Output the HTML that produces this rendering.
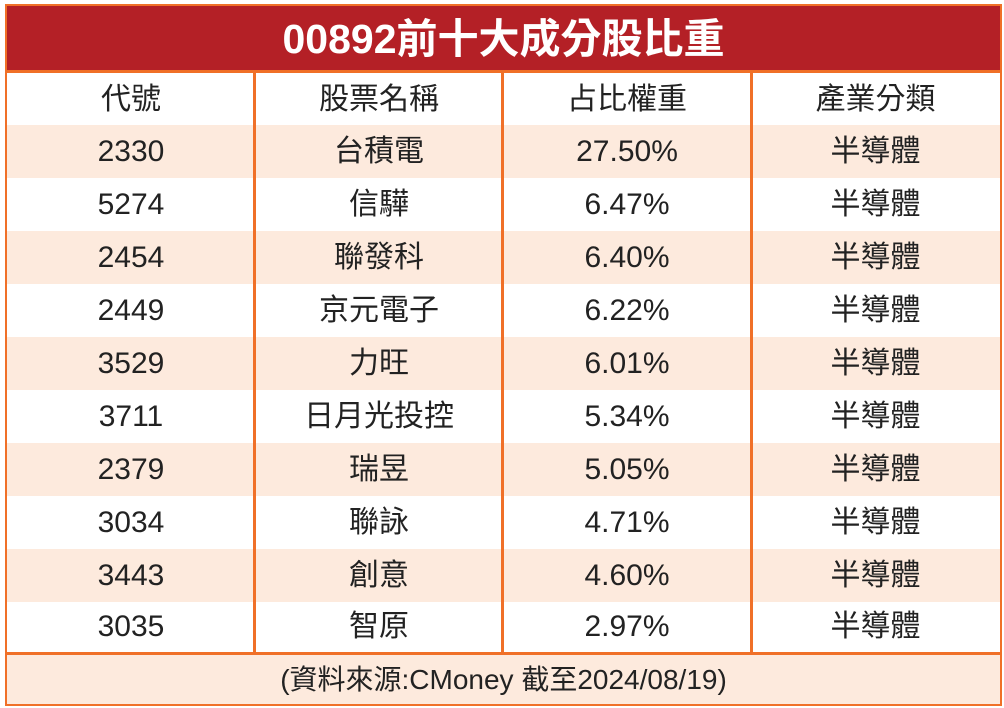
<!DOCTYPE html>
<html><head><meta charset="utf-8"><style>
body{margin:0;width:1004px;height:708px;background:#fff;font-family:"Liberation Sans","Noto Sans CJK TC",sans-serif;overflow:hidden}
.wrap{position:absolute;left:5px;top:4px;width:993px;height:698px;border:2px solid #f07028;background:#fff;overflow:hidden}
.title{position:absolute;left:0;top:0;width:993px;height:64px;background:#b42026;color:#fff;font-weight:bold;font-size:41px;text-align:center;line-height:66px;border-bottom:3px solid #f07028}
.row{position:absolute;left:0;width:993px;height:53px;font-size:30px;color:#222}
.row div{position:absolute;top:0;height:53px;line-height:53px;text-align:center}
.s{background:#fdeadd}
.c1{left:0;width:248px}.c2{left:248px;width:248px}.c3{left:496px;width:248px}.c4{left:744px;width:249px}
.v{position:absolute;top:67px;width:3px;height:580px;background:#f07028}
.foot{position:absolute;left:0;top:646px;width:993px;height:52px;border-top:3px solid #f07028;background:#fdeadd;font-size:28px;text-align:center;line-height:50px;color:#222}
</style></head><body><div class="wrap">
<div class="title">00892前十大成分股比重</div>
<div class="row" style="top:67px"><div class="c1">代號</div><div class="c2">股票名稱</div><div class="c3">占比權重</div><div class="c4">產業分類</div></div>
<div class="row s" style="top:119px"><div class="c1">2330</div><div class="c2">台積電</div><div class="c3">27.50%</div><div class="c4">半導體</div></div>
<div class="row" style="top:172px"><div class="c1">5274</div><div class="c2">信驊</div><div class="c3">6.47%</div><div class="c4">半導體</div></div>
<div class="row s" style="top:225px"><div class="c1">2454</div><div class="c2">聯發科</div><div class="c3">6.40%</div><div class="c4">半導體</div></div>
<div class="row" style="top:278px"><div class="c1">2449</div><div class="c2">京元電子</div><div class="c3">6.22%</div><div class="c4">半導體</div></div>
<div class="row s" style="top:331px"><div class="c1">3529</div><div class="c2">力旺</div><div class="c3">6.01%</div><div class="c4">半導體</div></div>
<div class="row" style="top:384px"><div class="c1">3711</div><div class="c2">日月光投控</div><div class="c3">5.34%</div><div class="c4">半導體</div></div>
<div class="row s" style="top:437px"><div class="c1">2379</div><div class="c2">瑞昱</div><div class="c3">5.05%</div><div class="c4">半導體</div></div>
<div class="row" style="top:490px"><div class="c1">3034</div><div class="c2">聯詠</div><div class="c3">4.71%</div><div class="c4">半導體</div></div>
<div class="row s" style="top:543px"><div class="c1">3443</div><div class="c2">創意</div><div class="c3">4.60%</div><div class="c4">半導體</div></div>
<div class="row" style="top:594px"><div class="c1">3035</div><div class="c2">智原</div><div class="c3">2.97%</div><div class="c4">半導體</div></div>
<div class="v" style="left:246px"></div><div class="v" style="left:494px"></div><div class="v" style="left:743px"></div>
<div class="foot">(資料來源:CMoney 截至2024/08/19)</div>
</div></body></html>
